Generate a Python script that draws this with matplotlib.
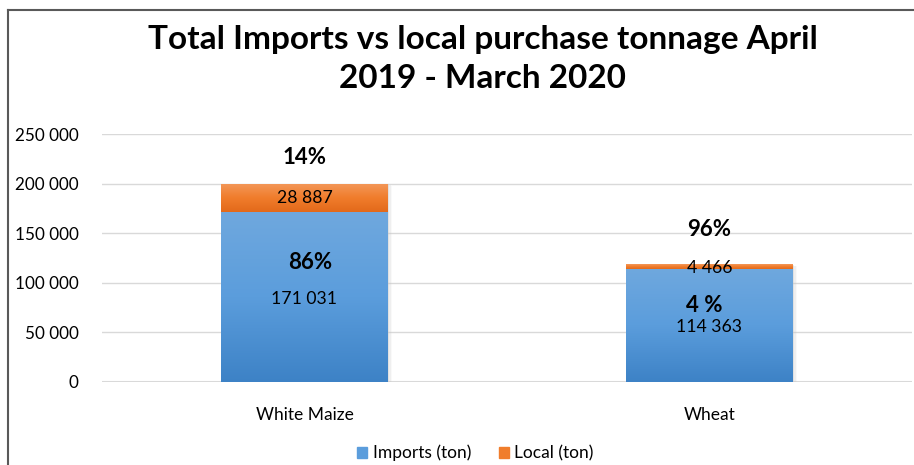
import numpy as np
import matplotlib.pyplot as plt
from matplotlib.colors import LinearSegmentedColormap
from matplotlib.patches import Rectangle
from matplotlib.lines import Line2D

plt.rcParams['font.family'] = ['Lato', 'DejaVu Sans']

categories = ["White Maize", "Wheat"]
imports = [171031, 114363]
local = [28887, 4466]
import_pct = ["86%", "4 %"]
local_pct = ["14%", "96%"]
series_names = ["Imports (ton)", "Local (ton)"]

fig = plt.figure(figsize=(9.14, 4.65), dpi=100)
ax = fig.add_axes([0.1116, 0.1785, 0.886, 0.5333])

# chart frame (top and left edges only visible)
fig.add_artist(Line2D([8/914, 8/914], [0, 1 - 10/465], color="#595959", lw=1.5))
fig.add_artist(Line2D([8/914, 1], [1 - 10/465, 1 - 10/465], color="#595959", lw=1.5))

x = np.arange(len(categories))
width = 0.41

blue_cmap = LinearSegmentedColormap.from_list("b", ["#3d82c6", "#5b9ddc", "#6fa8de"])
orange_cmap = LinearSegmentedColormap.from_list("o", ["#e2691a", "#f07d2c", "#f3985a"])
grad = np.linspace(0, 1, 256).reshape(-1, 1)

def grad_bar(xc, bottom, height, cmap):
    # soft shadow
    for k, a in enumerate([0.35, 0.2, 0.1]):
        off = 0.004 * (k + 1)
        ax.add_patch(Rectangle((xc - width/2 + off, bottom - 700 * (k + 1)), width, height,
                               facecolor="#c8c8c8", edgecolor="none", zorder=2, alpha=a))
    r = Rectangle((xc - width/2, bottom), width, height, facecolor="none", edgecolor="none", zorder=3)
    ax.add_patch(r)
    im = ax.imshow(grad, cmap=cmap, aspect="auto", origin="lower",
                   extent=[xc - width/2, xc + width/2, bottom, bottom + height], zorder=3)
    im.set_clip_path(r)

for i in range(len(categories)):
    grad_bar(x[i], 0, imports[i], blue_cmap)
    grad_bar(x[i], imports[i], local[i], orange_cmap)

ax.set_xlim(-0.5, 1.5)
ax.set_ylim(0, 250000)
ax.set_yticks(np.arange(0, 250001, 50000))
ax.set_yticklabels([f"{v:,}".replace(",", " ") for v in range(0, 250001, 50000)], fontsize=12.3)
ax.set_xticks(x)
ax.set_xticklabels(categories, fontsize=12.5)
ax.tick_params(axis="x", length=0, pad=18)
ax.tick_params(axis="y", length=0, pad=17)
ax.grid(axis="y", color="#d9d9d9", lw=1)
ax.set_axisbelow(True)
for s in ax.spines.values():
    s.set_visible(False)
ax.axhline(0, color="#d9d9d9", lw=1.5, zorder=1)

fmt = lambda v: f"{v:,}".replace(",", " ")

# maize labels
ax.text(x[0], imports[0] + local[0] / 2, fmt(local[0]), ha="center", va="center", fontsize=12.7, zorder=5)
ax.text(x[0], imports[0] + local[0] + 26000, local_pct[0], ha="center", va="center", fontsize=16, fontweight="bold", zorder=5)
ax.text(x[0] + 0.015, imports[0] - 51000, import_pct[0], ha="center", va="center", fontsize=16, fontweight="bold", zorder=5)
ax.text(x[0], imports[0] - 87000, fmt(imports[0]), ha="center", va="center", fontsize=12.7, zorder=5)

# wheat labels
ax.text(x[1], imports[1] + 500, fmt(local[1]), ha="center", va="center", fontsize=12.7, zorder=5)
ax.text(x[1], imports[1] + local[1] + 35000, local_pct[1], ha="center", va="center", fontsize=16, fontweight="bold", zorder=5)
ax.text(x[1] - 0.012, imports[1] - 37500, import_pct[1], ha="center", va="center", fontsize=16, fontweight="bold", zorder=5)
ax.text(x[1], imports[1] - 59000, fmt(imports[1]), ha="center", va="center", fontsize=12.7, zorder=5)

handles = [Rectangle((0, 0), 1, 1, color="#5b9ddc"), Rectangle((0, 0), 1, 1, color="#f07d2c")]
fig.legend(handles, series_names, loc="center", bbox_to_anchor=(0.52, 1 - 453/465), ncol=2,
           frameon=False, fontsize=12.5, handlelength=0.6, handleheight=0.6, handletextpad=0.3,
           columnspacing=1.6)

fig.text(0.528, 1 - 40/465, "Total Imports vs local purchase tonnage April", ha="center", va="center",
         fontsize=24, fontweight="bold")
fig.text(0.528, 1 - 78/465, "2019 - March 2020", ha="center", va="center",
         fontsize=24, fontweight="bold")

fig.savefig("out.png", dpi=100)
